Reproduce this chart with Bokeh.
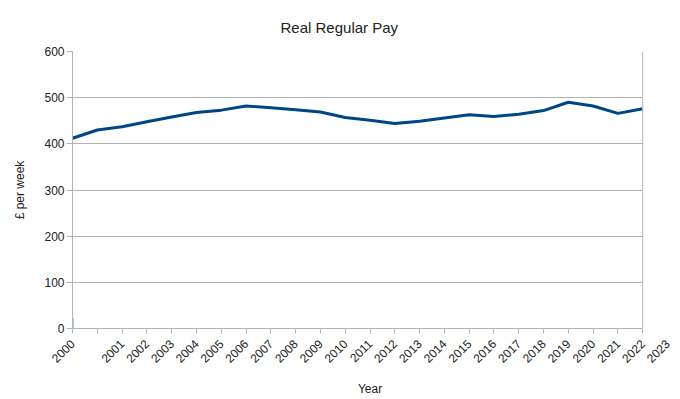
import math
from bokeh.plotting import figure
from bokeh.models import (Range1d, FixedTicker, Title, LinearAxis, BoxAnnotation, Span)
from bokeh.embed import file_html
from bokeh.resources import INLINE

# ---- data ----
tick_labels = ["2000", ""] + [str(y) for y in range(2001, 2024)]   # label positions 0..24
pay = [412, 430, 437, 448, 458, 468, 473, 482, 478, 474, 469, 457,
       451, 444, 449, 456, 463, 459, 464, 472, 490, 482, 466, 476]
spike_x = [0, 0]
spike_y = [0, 22]
y_ticks = [0, 100, 200, 300, 400, 500, 600]

xs = list(range(len(pay)))
last = len(pay) - 1          # end of the drawn axis (position 23)
n_lab = len(tick_labels) - 1  # last label position (24)

GRAY = "#b3b3b3"
FONT = "Liberation Sans"
TXT = "#222222"

p = figure(width=680, height=399, output_backend="svg", toolbar_location=None,
           x_range=Range1d(0, n_lab), y_range=Range1d(0, 600),
           min_border_left=72, min_border_right=13, min_border_top=47, min_border_bottom=71)

p.line(xs, pay, line_color="#004586", line_width=3)
p.line(spike_x, spike_y, line_color="#4f8fd6", line_width=2)

# axis 1: line + tick marks only, up to position 23
ax1 = p.xaxis[0]
ax1.ticker = FixedTicker(ticks=xs)
ax1.bounds = (0, last)
ax1.major_label_overrides = {i: "" for i in xs}
ax1.major_label_text_font_size = "1px"
ax1.major_label_standoff = 0
ax1.major_tick_out = 5
ax1.major_tick_in = 0
ax1.minor_tick_line_color = None
ax1.axis_line_color = GRAY
ax1.major_tick_line_color = GRAY

# axis 2: rotated year labels (incl. the one past the end)
ax2 = LinearAxis(ticker=FixedTicker(ticks=list(range(len(tick_labels)))))
ax2.major_label_overrides = {i: t for i, t in enumerate(tick_labels)}
ax2.major_label_orientation = math.pi / 4
ax2.axis_line_color = None
ax2.major_tick_line_color = None
ax2.minor_tick_line_color = None
ax2.major_tick_out = 0
ax2.major_tick_in = 0
ax2.major_label_standoff = 8
ax2.major_label_text_font = FONT
ax2.major_label_text_font_size = "12px"
ax2.major_label_text_color = TXT
p.add_layout(ax2, "below")

# axis 3: axis title, centred on the drawn axis
ax3 = LinearAxis(ticker=FixedTicker(ticks=[]), bounds=(0, last))
ax3.axis_line_color = None
ax3.major_tick_line_color = None
ax3.minor_tick_line_color = None
ax3.major_label_text_font_size = "1px"
ax3.axis_label = "Year"
ax3.axis_label_standoff = 12
ax3.axis_label_text_font = FONT
ax3.axis_label_text_font_size = "12px"
ax3.axis_label_text_font_style = "normal"
ax3.axis_label_text_color = TXT
p.add_layout(ax3, "below")

ya = p.yaxis[0]
ya.ticker = FixedTicker(ticks=y_ticks)
ya.axis_line_color = GRAY
ya.major_tick_line_color = GRAY
ya.minor_tick_line_color = None
ya.major_tick_in = 0
ya.major_tick_out = 6
ya.major_label_standoff = 2
ya.major_label_text_font = FONT
ya.major_label_text_font_size = "12px"
ya.major_label_text_color = TXT
ya.axis_label = "£ per week"
ya.axis_label_standoff = 14
ya.axis_label_text_font = FONT
ya.axis_label_text_font_size = "12px"
ya.axis_label_text_font_style = "normal"
ya.axis_label_text_color = TXT

p.xgrid.grid_line_color = None
p.ygrid.grid_line_color = GRAY
p.outline_line_color = None
p.background_fill_color = "white"
p.border_fill_color = "white"

# blank the area past the end of the axis, then draw the right edge
p.add_layout(BoxAnnotation(left=last, fill_color="white", fill_alpha=1.0, line_color=None))
p.add_layout(Span(location=last, dimension="height", line_color=GRAY, line_width=1))

p.add_layout(Title(text="Real Regular Pay", align="left", offset=208, standoff=32,
                   text_font=FONT, text_font_size="15px", text_font_style="normal",
                   text_color=TXT), "above")

open("out.html", "w").write(file_html(p, INLINE))
